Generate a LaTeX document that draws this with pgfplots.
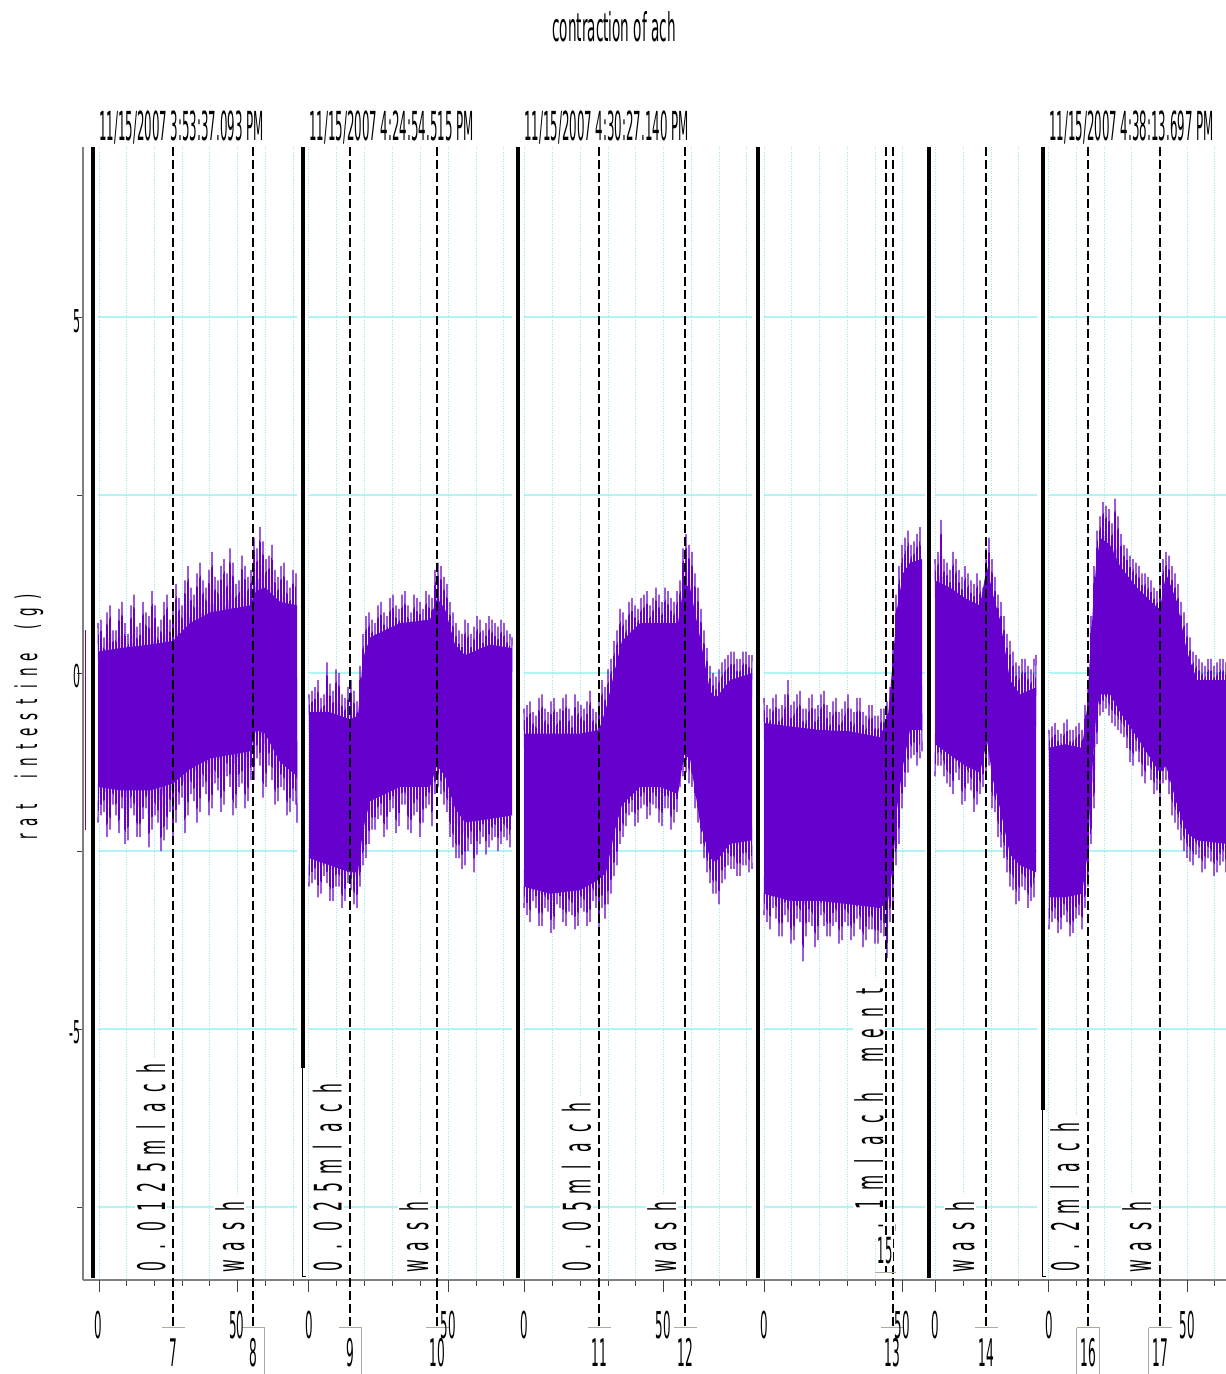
\documentclass[border=0pt]{standalone}
\usepackage{pgfplots}
\pgfplotsset{compat=1.18}
\usepackage{fontspec}
\usepackage{graphicx}
\setmainfont{DejaVu Sans}
\definecolor{sig}{RGB}{102,0,204}
\definecolor{hgrid}{RGB}{175,245,245}
\definecolor{vgrid}{RGB}{160,230,238}
\definecolor{axgray}{RGB}{128,128,128}
\definecolor{brk}{RGB}{175,170,155}
\newcommand{\ct}[3]{\scalebox{#1}[1]{\fontsize{#2}{#2}\selectfont #3}}
\newlength\slotw
\def\spaced#1{\spacedaux#1\relax}
\def\spacedaux#1{\ifx\relax#1\else\makebox[\slotw]{#1}\expandafter\spacedaux\fi}
\begin{document}
\begin{tikzpicture}
% horizontal grid segments (pixel coordinates)
\begin{scope}[yshift=1374pt, x=1pt, y=-1pt]
\foreach \py in {317,495,673,851,1029,1207}{
  \foreach \a/\b in {98/297,309/512,524/752,764/925,935/1037,1049/1226}{
    \draw[hgrid, line width=1.2pt] (\a,\py) -- (\b,\py);
  }}
\end{scope}
\begin{axis}[
  at={(83pt,94pt)}, anchor=south west,
  x=1pt, y=71.2pt,
  xmin=83, xmax=1226, ymin=-8.525, ymax=7.39,
  axis x line*=bottom, axis y line*=left,
  axis line style={axgray, line width=1.5pt, -},
  xtick={126.5,154,182,209.5,265,293,336.5,364,392,420,476,503,552,580,608,635.5,691,719,746,791,819,847,875,963.5,991,1018.5,1076,1104,1131.5,1159,1214.5},
  xticklabel=\empty,
  extra x ticks={99,237.5,308.7,448,524.5,663.5,764,902.4,935,1048,1187},
  extra x tick style={xticklabel=\empty, major tick length=12pt, xmajorgrids=true},
  ytick={-7.5,-5,-2.5,0,2.5,5}, yticklabel=\empty,
  tick align=outside, major tick length=6pt,
  tick style={black!75, line width=0.8pt},
  xmajorgrids=true,
  x grid style={vgrid, dotted, line width=0.8pt},
  zig/.style={sig, line width=1.15pt},
]
% sliver before first segment
\addplot[sig, line width=1.5pt] coordinates {(85.5,0.6)(85.5,-2.2)};
% ---- segment 1
\addplot[fill=sig, draw=none] coordinates {(98,0.3)(120,0.35)(150,0.4)(173,0.45)(190,0.7)(210,0.85)(230,0.9)(250,0.95)(256,1.15)(265,1.2)(280,1.0)(297,0.95)(297,-1.45)(280,-1.25)(265,-0.85)(256,-0.8)(250,-1.1)(230,-1.15)(210,-1.2)(190,-1.35)(173,-1.55)(150,-1.65)(120,-1.65)(98,-1.6)};
\addplot[zig] coordinates {(98,0.7)(101,-2.0)(104,0.5)(107,-2.3)(110,0.95)(113,-1.85)(116,0.6)(119,-2.25)(122,1.0)(125,-2.4)(128,0.55)(131,-1.9)(134,1.1)(137,-2.3)(140,0.7)(143,-2.05)(146,0.85)(149,-2.45)(152,1.15)(155,-2.0)(158,0.65)(161,-2.5)(164,1.0)(167,-2.2)(170,0.75)(173,-2.35)(176,1.25)(179,-1.85)(182,0.95)(185,-2.25)(188,1.5)(191,-1.7)(194,1.1)(197,-2.1)(200,1.55)(203,-1.6)(206,1.2)(209,-2.0)(212,1.7)(215,-1.55)(218,1.3)(221,-1.95)(224,1.6)(227,-1.45)(230,1.75)(233,-2.0)(236,1.25)(239,-1.6)(242,1.65)(245,-1.9)(248,1.35)(251,-1.5)(254,1.9)(257,-1.2)(260,2.05)(263,-1.75)(266,1.6)(269,-1.3)(272,1.8)(275,-1.85)(278,1.35)(281,-1.6)(284,1.55)(287,-2.0)(290,1.2)(293,-1.8)(296,1.4)(297,-2.1)};
\addplot[zig] coordinates {(98,-2.1)(101,0.75)(104,-1.95)(107,0.85)(110,-2.2)(113,0.6)(116,-2.0)(119,0.9)(122,-1.9)(125,0.7)(128,-2.35)(131,0.95)(134,-2.0)(137,0.65)(140,-2.3)(143,1.0)(146,-1.9)(149,0.8)(152,-2.2)(155,0.95)(158,-2.1)(161,0.75)(164,-2.35)(167,1.1)(170,-1.95)(173,0.9)(176,-2.1)(179,1.05)(182,-1.75)(185,1.3)(188,-2.0)(191,1.2)(194,-1.8)(197,1.4)(200,-1.95)(203,1.3)(206,-1.7)(209,1.45)(212,-1.9)(215,1.35)(218,-1.65)(221,1.5)(224,-1.85)(227,1.4)(230,-1.6)(233,1.55)(236,-1.9)(239,1.3)(242,-1.55)(245,1.5)(248,-1.8)(251,1.45)(254,-1.5)(257,1.75)(260,-1.3)(263,1.85)(266,-1.6)(269,1.65)(272,-1.5)(275,1.45)(278,-1.8)(281,1.5)(284,-1.65)(287,1.3)(290,-1.95)(293,1.45)(296,-1.85)};
% ---- segment 2
\addplot[fill=sig, draw=none] coordinates {(309,-0.55)(330,-0.55)(350,-0.65)(358,-0.6)(363,0.2)(370,0.5)(400,0.7)(430,0.75)(437,1.05)(445,0.9)(455,0.4)(465,0.25)(490,0.4)(512,0.35)(512,-2.0)(490,-2.05)(465,-2.1)(455,-1.9)(445,-1.45)(437,-1.3)(430,-1.6)(400,-1.6)(370,-1.8)(363,-2.2)(358,-2.8)(350,-2.8)(330,-2.7)(309,-2.6)};
\addplot[zig] coordinates {(309,-0.3)(312,-2.95)(315,-0.2)(318,-3.15)(321,-0.35)(324,-2.85)(327,0.15)(330,-3.2)(333,-0.25)(336,-3.0)(339,0.0)(342,-3.3)(345,-0.35)(348,-2.95)(351,-0.1)(354,-3.25)(357,-0.4)(360,-3.0)(363,0.55)(366,-2.6)(369,0.85)(372,-2.2)(375,0.7)(378,-2.05)(381,1.0)(384,-2.3)(387,0.8)(390,-1.95)(393,1.1)(396,-2.25)(399,0.9)(402,-1.85)(405,1.15)(408,-2.2)(411,0.85)(414,-2.0)(417,1.05)(420,-2.3)(423,0.9)(426,-1.9)(429,1.1)(432,-2.15)(435,1.45)(438,-1.6)(441,1.5)(444,-1.85)(447,1.25)(450,-2.3)(453,0.85)(456,-2.6)(459,0.6)(462,-2.75)(465,0.75)(468,-2.5)(471,0.55)(474,-2.8)(477,0.8)(480,-2.4)(483,0.6)(486,-2.55)(489,0.8)(492,-2.35)(495,0.7)(498,-2.5)(501,0.75)(504,-2.3)(507,0.6)(510,-2.45)(512,0.5)};
\addplot[zig] coordinates {(309,-3.0)(312,-0.25)(315,-2.9)(318,-0.1)(321,-3.1)(324,-0.3)(327,-2.95)(330,-0.15)(333,-3.2)(336,0.05)(339,-3.0)(342,-0.3)(345,-3.2)(348,-0.2)(351,-3.05)(354,-0.25)(357,-3.3)(360,0.1)(363,-2.7)(366,0.8)(369,-2.4)(372,0.75)(375,-2.2)(378,0.95)(381,-2.0)(384,0.85)(387,-2.2)(390,1.05)(393,-1.9)(396,0.95)(399,-2.15)(402,1.1)(405,-1.85)(408,0.95)(411,-2.25)(414,1.1)(417,-1.95)(420,1.0)(423,-2.1)(426,1.15)(429,-1.85)(432,1.05)(435,-1.7)(438,1.55)(441,-1.7)(444,1.35)(447,-1.95)(450,1.0)(453,-2.45)(456,0.7)(459,-2.6)(462,0.55)(465,-2.7)(468,0.7)(471,-2.4)(474,0.65)(477,-2.55)(480,0.75)(483,-2.3)(486,0.7)(489,-2.45)(492,0.75)(495,-2.3)(498,0.65)(501,-2.4)(504,0.7)(507,-2.35)(510,0.55)};
% ---- segment 3
\addplot[fill=sig, draw=none] coordinates {(524,-0.85)(550,-0.85)(580,-0.85)(599,-0.8)(606,-0.5)(615,0.05)(622,0.45)(640,0.7)(660,0.7)(678,0.7)(684,1.25)(690,1.2)(700,0.5)(710,-0.25)(716,-0.35)(730,-0.1)(752,0.0)(752,-2.35)(730,-2.4)(716,-2.65)(710,-2.6)(700,-2.1)(690,-1.2)(684,-1.15)(678,-1.7)(660,-1.6)(640,-1.6)(622,-1.85)(615,-2.2)(606,-2.8)(599,-2.9)(580,-3.05)(550,-3.1)(524,-3.0)};
\addplot[zig] coordinates {(524,-0.5)(527,-3.4)(530,-0.4)(533,-3.2)(536,-0.6)(539,-3.55)(542,-0.3)(545,-3.3)(548,-0.55)(551,-3.65)(554,-0.35)(557,-3.25)(560,-0.5)(563,-3.5)(566,-0.3)(569,-3.35)(572,-0.6)(575,-3.6)(578,-0.4)(581,-3.3)(584,-0.5)(587,-3.55)(590,-0.25)(593,-3.2)(596,-0.55)(599,-3.6)(602,-0.1)(605,-3.45)(608,0.05)(611,-3.1)(614,0.45)(617,-2.7)(620,0.9)(623,-2.3)(626,0.75)(629,-2.0)(632,1.05)(635,-2.15)(638,0.9)(641,-1.9)(644,1.1)(647,-2.05)(650,0.95)(653,-1.85)(656,1.2)(659,-2.1)(662,1.0)(665,-1.9)(668,1.15)(671,-2.2)(674,1.0)(677,-1.95)(680,1.3)(683,-1.45)(686,1.95)(689,-1.55)(692,1.7)(695,-1.9)(698,1.2)(701,-2.4)(704,0.6)(707,-2.8)(710,0.1)(713,-3.1)(716,-0.05)(719,-3.25)(722,0.15)(725,-2.9)(728,0.25)(731,-2.75)(734,0.3)(737,-2.85)(740,0.2)(743,-2.7)(746,0.3)(749,-2.8)(752,0.25)};
\addplot[zig] coordinates {(524,-3.3)(527,-0.45)(530,-3.5)(533,-0.55)(536,-3.3)(539,-0.35)(542,-3.55)(545,-0.5)(548,-3.35)(551,-0.4)(554,-3.6)(557,-0.55)(560,-3.3)(563,-0.35)(566,-3.55)(569,-0.5)(572,-3.4)(575,-0.3)(578,-3.55)(581,-0.45)(584,-3.35)(587,-0.4)(590,-3.5)(593,-0.5)(596,-3.3)(599,-0.35)(602,-3.3)(605,-0.2)(608,-3.25)(611,0.2)(614,-2.85)(617,0.6)(620,-2.4)(623,0.85)(626,-2.15)(629,1.0)(632,-1.95)(635,0.95)(638,-2.1)(641,1.05)(644,-1.85)(647,1.15)(650,-2.0)(653,1.05)(656,-1.9)(659,1.1)(662,-2.15)(665,1.2)(668,-1.9)(671,1.05)(674,-2.1)(677,1.15)(680,-1.6)(683,1.75)(686,-1.4)(689,1.8)(692,-1.6)(695,1.4)(698,-2.1)(701,0.9)(704,-2.6)(707,0.35)(710,-2.95)(713,0.0)(716,-3.1)(719,0.05)(722,-2.95)(725,0.2)(728,-2.7)(731,0.3)(734,-2.75)(737,0.2)(740,-2.85)(743,0.3)(746,-2.7)(749,0.25)(752,-2.75)};
% ---- segment 4
\addplot[fill=sig, draw=none] coordinates {(764,-0.7)(790,-0.75)(820,-0.8)(850,-0.82)(880,-0.9)(888,-0.6)(893,0.2)(897,0.9)(903,1.4)(910,1.55)(922,1.6)(922,-0.8)(910,-0.8)(903,-1.3)(897,-1.9)(893,-2.7)(888,-3.2)(880,-3.3)(850,-3.25)(820,-3.2)(790,-3.2)(764,-3.1)};
\addplot[zig] coordinates {(764,-0.35)(767,-3.5)(770,-0.5)(773,-3.3)(776,-0.3)(779,-3.7)(782,-0.45)(785,-3.4)(788,-0.1)(791,-3.8)(794,-0.4)(797,-3.45)(800,-0.25)(803,-4.05)(806,-0.5)(809,-3.5)(812,-0.3)(815,-3.85)(818,-0.45)(821,-3.4)(824,-0.25)(827,-3.7)(830,-0.55)(833,-3.55)(836,-0.35)(839,-3.8)(842,-0.5)(845,-3.5)(848,-0.3)(851,-3.75)(854,-0.55)(857,-3.45)(860,-0.35)(863,-3.85)(866,-0.6)(869,-3.6)(872,-0.45)(875,-3.8)(878,-0.6)(881,-3.65)(884,-0.5)(887,-4.0)(890,-0.2)(893,-3.2)(896,1.1)(899,-2.4)(902,1.8)(905,-1.6)(908,2.0)(911,-1.2)(914,1.85)(917,-1.3)(920,2.05)(922,-1.1)};
\addplot[zig] coordinates {(764,-3.4)(767,-0.45)(770,-3.6)(773,-0.35)(776,-3.45)(779,-0.5)(782,-3.7)(785,-0.3)(788,-3.5)(791,-0.45)(794,-3.75)(797,-0.3)(800,-3.5)(803,-0.5)(806,-3.7)(809,-0.35)(812,-3.55)(815,-0.5)(818,-3.75)(821,-0.3)(824,-3.55)(827,-0.45)(830,-3.7)(833,-0.4)(836,-3.5)(839,-0.55)(842,-3.75)(845,-0.4)(848,-3.55)(851,-0.5)(854,-3.7)(857,-0.35)(860,-3.6)(863,-0.55)(866,-3.75)(869,-0.45)(872,-3.6)(875,-0.6)(878,-3.8)(881,-0.5)(884,-3.7)(887,-0.4)(890,-3.5)(893,0.4)(896,-2.7)(899,1.5)(902,-1.9)(905,1.9)(908,-1.4)(911,1.8)(914,-1.15)(917,1.95)(920,-1.2)};
% ---- segment 5
\addplot[fill=sig, draw=none] coordinates {(935,1.3)(950,1.2)(965,1.05)(980,0.95)(987,1.5)(993,1.1)(1000,0.75)(1010,-0.1)(1020,-0.3)(1036,-0.2)(1036,-2.8)(1020,-2.7)(1010,-2.55)(1000,-1.9)(993,-1.5)(987,-0.95)(980,-1.4)(965,-1.3)(950,-1.15)(935,-1.0)};
\addplot[zig] coordinates {(935,1.6)(938,-1.3)(941,2.15)(944,-1.45)(947,1.55)(950,-1.6)(953,1.7)(956,-1.4)(959,1.45)(962,-1.85)(965,1.5)(968,-1.55)(971,1.3)(974,-1.95)(977,1.4)(980,-1.7)(983,1.2)(986,-1.5)(989,1.9)(992,-1.9)(995,1.35)(998,-2.3)(1001,1.0)(1004,-2.6)(1007,0.55)(1010,-3.0)(1013,0.3)(1016,-3.25)(1019,0.1)(1022,-3.0)(1025,0.2)(1028,-3.3)(1031,0.05)(1034,-3.15)(1036,0.25)};
\addplot[zig] coordinates {(935,-1.45)(938,1.7)(941,-1.3)(944,1.6)(947,-1.55)(950,1.45)(953,-1.7)(956,1.6)(959,-1.5)(962,1.35)(965,-1.8)(968,1.4)(971,-1.65)(974,1.25)(977,-1.85)(980,1.3)(983,-1.6)(986,1.75)(989,-1.3)(992,1.6)(995,-1.95)(998,1.1)(1001,-2.45)(1004,0.8)(1007,-2.8)(1010,0.45)(1013,-3.05)(1016,0.15)(1019,-3.2)(1022,0.2)(1025,-3.05)(1028,0.1)(1031,-3.2)(1034,0.2)};
% ---- segment 6
\addplot[fill=sig, draw=none] coordinates {(1049,-1.05)(1065,-1.0)(1082,-1.05)(1087,-0.5)(1091,0.5)(1096,1.5)(1100,1.9)(1110,1.8)(1120,1.5)(1137,1.2)(1155,0.95)(1160,0.9)(1166,1.4)(1177,1.0)(1187,0.3)(1197,-0.1)(1226,-0.1)(1226,-2.4)(1197,-2.35)(1187,-2.25)(1177,-1.85)(1166,-1.3)(1160,-1.4)(1155,-1.3)(1137,-0.9)(1120,-0.55)(1110,-0.3)(1100,-0.3)(1096,-0.6)(1091,-1.6)(1087,-2.6)(1082,-3.1)(1065,-3.15)(1049,-3.15)};
\addplot[zig] coordinates {(1049,-0.8)(1052,-3.5)(1055,-0.7)(1058,-3.65)(1061,-0.85)(1064,-3.4)(1067,-0.65)(1070,-3.7)(1073,-0.8)(1076,-3.45)(1079,-0.7)(1082,-3.6)(1085,-0.45)(1088,-3.0)(1091,0.8)(1094,-1.9)(1097,2.0)(1100,-0.6)(1103,2.4)(1106,-0.5)(1109,2.3)(1112,-0.7)(1115,2.45)(1118,-0.8)(1121,1.95)(1124,-0.9)(1127,1.75)(1130,-1.25)(1133,1.6)(1136,-1.1)(1139,1.5)(1142,-1.45)(1145,1.4)(1148,-1.3)(1151,1.3)(1154,-1.7)(1157,1.15)(1160,-1.8)(1163,1.6)(1166,-1.5)(1169,1.65)(1172,-2.0)(1175,1.4)(1178,-2.2)(1181,1.0)(1184,-2.5)(1187,0.7)(1190,-2.65)(1193,0.3)(1196,-2.55)(1199,0.2)(1202,-2.8)(1205,0.1)(1208,-2.6)(1211,0.2)(1214,-2.85)(1217,0.15)(1220,-2.7)(1223,0.2)(1226,-2.8)};
\addplot[zig] coordinates {(1049,-3.6)(1052,-0.75)(1055,-3.45)(1058,-0.8)(1061,-3.6)(1064,-0.7)(1067,-3.5)(1070,-0.8)(1073,-3.65)(1076,-0.75)(1079,-3.4)(1082,-0.8)(1085,-3.3)(1088,-0.1)(1091,-2.4)(1094,1.5)(1097,-1.0)(1100,2.2)(1103,-0.55)(1106,2.35)(1109,-0.6)(1112,2.1)(1115,-0.75)(1118,2.2)(1121,-0.85)(1124,1.8)(1127,-1.05)(1130,1.65)(1133,-1.3)(1136,1.55)(1139,-1.25)(1142,1.4)(1145,-1.55)(1148,1.35)(1151,-1.5)(1154,1.2)(1157,-1.65)(1160,1.25)(1163,-1.55)(1166,1.7)(1169,-1.7)(1172,1.5)(1175,-2.1)(1178,1.25)(1181,-2.35)(1184,0.85)(1187,-2.6)(1190,0.5)(1193,-2.7)(1196,0.25)(1199,-2.6)(1202,0.15)(1205,-2.75)(1208,0.2)(1211,-2.65)(1214,0.1)(1217,-2.8)(1220,0.2)(1223,-2.65)(1226,0.15)};
\end{axis}
% ---------- annotations in pixel coordinates
\begin{scope}[yshift=1374pt, x=1pt, y=-1pt,
  ann/.style={rotate=90, anchor=base west, inner sep=1.5pt, fill=white},
  dsh/.style={black, line width=1.3pt, dash pattern=on 9pt off 4pt},
  thk/.style={black, line width=4.5pt},
  num/.style={anchor=base, inner sep=0pt}]
% rotated notes
\node[ann] at (165,1278) {\setlength\slotw{48.3pt}\ct{0.41}{38}{\spaced{0.0125mlach}}};
\node[ann] at (244,1278) {\setlength\slotw{48.3pt}\ct{0.41}{38}{\spaced{wash}}};
\node[ann] at (341.7,1278) {\setlength\slotw{48.3pt}\ct{0.41}{38}{\spaced{0.025mlach}}};
\node[ann] at (428,1278) {\setlength\slotw{48.3pt}\ct{0.41}{38}{\spaced{wash}}};
\node[ann] at (590.6,1278) {\setlength\slotw{48.3pt}\ct{0.41}{38}{\spaced{0.05mlach}}};
\node[ann] at (676,1278) {\setlength\slotw{48.3pt}\ct{0.41}{38}{\spaced{wash}}};
\node[ann] at (883,1238) {\setlength\slotw{52pt}\ct{0.41}{38}{\spaced{.1mlach~ment}}};
\node[ann] at (974,1278) {\setlength\slotw{48.3pt}\ct{0.41}{38}{\spaced{wash}}};
\node[ann] at (1079,1278) {\setlength\slotw{48.3pt}\ct{0.41}{38}{\spaced{0.2mlach}}};
\node[ann] at (1151,1278) {\setlength\slotw{48.3pt}\ct{0.41}{38}{\spaced{wash}}};
% segment start lines
\draw[thk] (93,147) -- (93,1278);
\draw[thk] (303,147) -- (303,1068);
\draw[black, line width=0.8pt] (302,1068) -- (302,1276) -- (306,1276);
\draw[thk] (518,147) -- (518,1278);
\draw[thk] (758,147) -- (758,1278);
\draw[thk] (929,147) -- (929,1278);
\draw[thk] (1043,147) -- (1043,1110);
\draw[black, line width=0.8pt] (1042,1110) -- (1042,1276) -- (1046,1276);
% event lines
\foreach \ex in {173,253,350,437,599,685,893,986,1088,1160}{
  \draw[dsh] (\ex,147) -- (\ex,1328);
}
\draw[dsh] (886,147) -- (886,1273);
% event label brackets
\foreach \ex in {173,253,350,437,599,685,892,986,1088,1160}{
  \draw[brk, line width=1pt] (\ex-11.5,1328) -- (\ex+11.5,1328);
}
\draw[brk, line width=1pt] (264.5,1328) -- (264.5,1374);
\draw[brk, line width=1pt] (361.5,1328) -- (361.5,1374);
\draw[brk, line width=1pt] (1076.5,1328) -- (1076.5,1374);
\draw[brk, line width=1pt] (1099.5,1328) -- (1099.5,1374);
\draw[brk, line width=1pt] (1148.5,1328) -- (1148.5,1374);
% event "15"
\node[anchor=base, fill=white, inner sep=1pt] at (885,1264) {\ct{0.32}{36}{15}};
\draw[brk, line width=1pt] (875,1273) -- (896,1273);
\draw[brk, line width=1pt] (895,1224) -- (895,1231);
% event numbers
\foreach \ex/\lab in {173/7,253/8,350/9,437/10,599/11,685/12,892/13,986/14,1088/16,1160/17}{
  \node[num] at (\ex,1367) {\ct{0.32}{38}{\lab}};
}
% x tick labels
\foreach \ex/\lab in {98/0,237/50,309/0,448/50,524/0,663/50,764/0,902/50,935/0,1049/0,1187/50}{
  \node[num] at (\ex,1339) {\ct{0.32}{37}{\lab}};
}
% y tick labels
\node[anchor=east, inner sep=0pt] at (81,321) {\ct{0.35}{31.5}{5}};
\node[anchor=east, inner sep=0pt] at (81,676) {\ct{0.35}{31.5}{0}};
\node[anchor=east, inner sep=0pt] at (81,1032) {\ct{0.35}{31.5}{-5}};
% y label
\node[rotate=90, anchor=base, inner sep=0pt] at (37,717) {\setlength\slotw{33.3pt}\ct{0.45}{30}{\spaced{rat~intestine~(g)}}};
% date headers
\node[anchor=base west, inner sep=0pt] at (99,141) {\ct{0.295}{40}{11/15/2007 3:53:37.093 PM}};
\node[anchor=base west, inner sep=0pt] at (309,141) {\ct{0.295}{40}{11/15/2007 4:24:54.515 PM}};
\node[anchor=base west, inner sep=0pt] at (524,141) {\ct{0.295}{40}{11/15/2007 4:30:27.140 PM}};
\node[anchor=base west, inner sep=0pt] at (1049,141) {\ct{0.295}{40}{11/15/2007 4:38:13.697 PM}};
% title
\node[anchor=base, inner sep=0pt] at (614,42) {\ct{0.344}{39.5}{contraction of ach}};
\end{scope}
\pgfresetboundingbox
\path[use as bounding box] (0,0) rectangle (1226pt,1374pt);
\end{tikzpicture}
\end{document}
